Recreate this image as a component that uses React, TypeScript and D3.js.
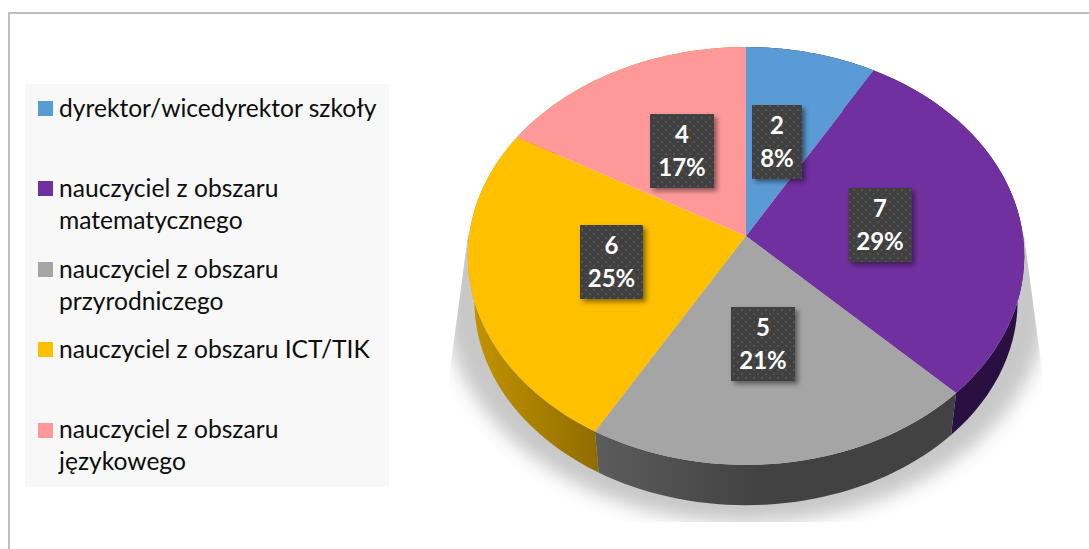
import React from "react"
import * as d3 from "d3"

const categories = [
  ["dyrektor/wicedyrektor szkoły"],
  ["nauczyciel z obszaru", "matematycznego"],
  ["nauczyciel z obszaru", "przyrodniczego"],
  ["nauczyciel z obszaru ICT/TIK"],
  ["nauczyciel z obszaru", "językowego"],
]
const values = [2, 7, 5, 6, 4]
const percents = ["8%", "29%", "21%", "25%", "17%"]
const colors = ["#5B9BD5", "#7030A0", "#A5A5A5", "#FFC000", "#FF9999"]
const sideGradients = [
  ["#2a1040", "#2a1040"],
  ["#2a1040", "#2a1040"],
  ["#5c5c5c", "#424242"],
  ["#c49500", "#8f6c00"],
  ["#b58a00", "#b58a00"],
]

// hand placed in the original, so these are layout and not data
const labelCenters = [
  [777, 142],
  [880, 225],
  [763, 344],
  [611.5, 262],
  [682, 151],
]
const labelWidths = [50, 63, 64, 63, 64]
const legendSwatchY = [101, 181, 262, 342, 423]
const legendBaselines = [
  [117],
  [197, 229],
  [278, 310],
  [358],
  [438, 470],
]

const width = 1089
const height = 549
const apexX = 746
const apexY = 236
const radiusX = 277
const radiusY = 207
const tilt = 0.0957
const depth = 45.8
const rimScale = 0.976
const fontFamily = "Lato, Carlito, sans-serif"

const project = (a: number, dy = 0, s = 1): [number, number] => {
  const w = 1 + tilt * Math.cos(a)
  return [
    apexX + (s * radiusX * Math.sin(a)) / w,
    apexY + dy - (s * radiusY * Math.cos(a)) / w,
  ]
}

const arcPoints = (a0: number, a1: number, dy = 0, s = 1) =>
  d3.range(0, 41).map(i => project(a0 + ((a1 - a0) * i) / 40, dy, s))

const line = d3.line()
const slices = d3.pie<number>().sort(null)(values)

const App = () => {
  const shadowRing = arcPoints(0, Math.PI * 2, 38, 1.09)

  return (
    <svg
      width={width}
      height={height}
      style={{ position: "absolute", left: 0, top: 0, background: "#fff" }}
    >
      <defs>
        <filter id="soft" x="-20%" y="-20%" width="140%" height="140%">
          <feGaussianBlur stdDeviation="9" />
        </filter>
        <filter id="boxShadow" x="-30%" y="-30%" width="170%" height="170%">
          <feDropShadow dx="3" dy="3" stdDeviation="2.5" floodColor="#000" floodOpacity="0.45" />
        </filter>
        <clipPath id="shadowClip">
          <path d="M468 235L449 378L449 522L1043 522L1043 378L1024 235Z" />
        </clipPath>
        <pattern id="dots" width="8" height="8" patternUnits="userSpaceOnUse">
          <rect width="8" height="8" fill="#404040" />
          <rect x="1" y="1" width="2" height="2" fill="#525252" />
          <rect x="5" y="5" width="2" height="2" fill="#525252" />
        </pattern>
        {sideGradients.map((g, i) => (
          <linearGradient
            key={i}
            id={"side" + i}
            gradientUnits="userSpaceOnUse"
            x1={i === 2 ? 596 : 468}
            x2={i === 2 ? 760 : 600}
            y1={0}
            y2={0}
          >
            <stop offset="0" stopColor={g[0]} />
            <stop offset="1" stopColor={g[1]} />
          </linearGradient>
        ))}
      </defs>

      <path d="M9 549V13H1089" fill="none" stroke="#bfbfbf" strokeWidth={2} />

      <rect x={25} y={84} width={364} height={403} fill="#f8f8f8" />
      {categories.map((lines, i) => (
        <g key={i}>
          <rect x={38} y={legendSwatchY[i]} width={15} height={15} fill={colors[i]} />
          {lines.map((t, j) => (
            <text
              key={j}
              x={59}
              y={legendBaselines[i][j]}
              fontFamily={fontFamily}
              fontSize={24.6}
              fill="#0d0d0d"
            >
              {t}
            </text>
          ))}
        </g>
      ))}

      <g clipPath="url(#shadowClip)">
        <path d={line(shadowRing) + "Z"} fill="#c8c8c8" filter="url(#soft)" />
      </g>

      {slices.map((d, i) => (
        <path
          key={i}
          d={
            line([
              ...arcPoints(d.startAngle, d.endAngle),
              ...arcPoints(d.startAngle, d.endAngle, depth, rimScale).reverse(),
            ]) + "Z"
          }
          fill={`url(#side${i})`}
        />
      ))}

      {slices.map((d, i) => (
        <path
          key={i}
          d={line([[apexX, apexY], ...arcPoints(d.startAngle, d.endAngle)]) + "Z"}
          fill={colors[i]}
        />
      ))}

      {slices.map((d, i) => {
        const [cx, cy] = labelCenters[i]
        const w = labelWidths[i]
        return (
          <g key={i} fontFamily={fontFamily} fontWeight={700} fontSize={24} fill="#fff" textAnchor="middle">
            <rect x={cx - w / 2} y={cy - 37} width={w} height={74} fill="url(#dots)" filter="url(#boxShadow)" />
            <text x={cx} y={cy - 8}>{d.value}</text>
            <text x={cx} y={cy + 25}>{percents[i]}</text>
          </g>
        )
      })}
    </svg>
  )
}

export default App
